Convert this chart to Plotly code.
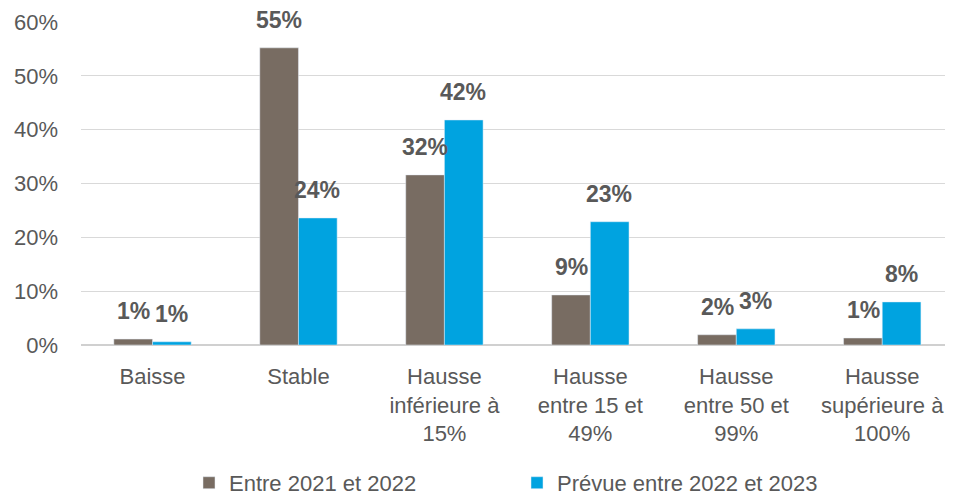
import plotly.graph_objects as go

categories = ["Baisse", "Stable", "Hausse<br>inférieure à<br>15%", "Hausse<br>entre 15 et<br>49%",
              "Hausse<br>entre 50 et<br>99%", "Hausse<br>supérieure à<br>100%"]
entre_2021_2022 = [1.1, 55.2, 31.6, 9.3, 1.9, 1.3]
prevue_2022_2023 = [0.6, 23.6, 41.8, 22.9, 3.0, 8.0]

FONT = "Liberation Sans, Arial, sans-serif"
GREY_TXT = "#595959"

fig = go.Figure()
fig.add_trace(go.Bar(x=categories, y=entre_2021_2022, name="Entre 2021 et 2022",
                     marker_color="#786C62"))
fig.add_trace(go.Bar(x=categories, y=prevue_2022_2023, name="Prévue entre 2022 et 2023",
                     marker_color="#00A3E0"))

# value labels above each bar, a bit higher than plotly's default "outside" text
for vals, shift in [(entre_2021_2022, -19), (prevue_2022_2023, 19)]:
    for c, v in zip(categories, vals):
        fig.add_annotation(x=c, y=v, xref="x", yref="y", text=f"<b>{v:.0f}%</b>",
                           showarrow=False, yanchor="bottom", xshift=shift, yshift=13,
                           font=dict(family=FONT, size=23, color=GREY_TXT))

# page body has an 8px margin, so the figure is sized to fit the window
fig.update_layout(
    width=945, height=487,
    margin=dict(l=73, r=8, t=14, b=150, autoexpand=False),
    paper_bgcolor="white", plot_bgcolor="white",
    barmode="group", bargap=0.47, bargroupgap=0,
    font=dict(family=FONT, size=22, color=GREY_TXT),
    legend=dict(orientation="h", x=0.125, xanchor="left", y=-0.427, yanchor="middle",
                font=dict(family=FONT, size=22, color=GREY_TXT),
                entrywidth=283, entrywidthmode="pixels"),
    showlegend=True,
)
fig.update_yaxes(range=[0, 60], dtick=10, ticksuffix="%", showgrid=True, gridcolor="#D9D9D9",
                 zeroline=True, zerolinecolor="#D0D0D0", zerolinewidth=1.5, ticks="",
                 ticklabelstandoff=22, automargin=False,
                 tickfont=dict(family=FONT, size=22, color=GREY_TXT))
fig.update_xaxes(range=[-0.49, 5.43], tickfont=dict(family=FONT, size=22, color=GREY_TXT),
                 showline=False, ticks="", ticklabelstandoff=16, automargin=False)

fig.write_html("out.html")
